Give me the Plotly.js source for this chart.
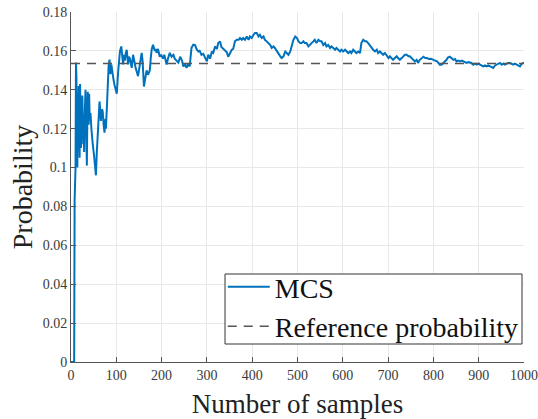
<!DOCTYPE html>
<html>
<head>
<meta charset="utf-8">
<script src="https://cdn.plot.ly/plotly-3.0.1.min.js"></script>
<style>
html,body{margin:0;padding:0;background:#fff;}
#chart{width:538px;height:419px;}
</style>
</head>
<body>
<div id="chart"></div>
<script>
// MCS running estimate: sample count and probability
const mcsN = [0,7,8,9,10,11,12,13,14,15,16,17,18,19,20,21,22,23,24,25,26,27,28,29,30,31,32,33,34,35,36,37,38,39,40,41,42,43,45,46,48,51,53,55,57,59,61,63,65,66,68,70,72,74,76,77,79,81,83,85,87,89,92,94,96,98,101,104,106,108,111,113,115,117,119,121,123,126,128,130,132,134,137,139,141,143,145,148,150,152,154,156,158,159,161,164,167,170,172,174,176,178,181,183,185,187,189,192,194,196,199,203,206,208,211,214,218,222,226,229,233,237,241,245,248,252,255,258,262,264,266,270,274,277,281,284,288,292,296,300,303,307,311,314,318,322,325,329,332,336,340,344,347,351,355,358,362,366,370,373,377,380,384,388,392,395,399,403,406,410,414,417,421,425,428,432,436,440,443,447,450,454,458,462,465,469,473,477,480,484,487,491,495,499,502,506,509,513,516,520,524,528,531,535,538,542,546,550,553,557,561,564,568,572,575,579,583,586,590,594,597,601,605,608,612,616,619,623,627,630,634,638,641,645,649,652,656,660,664,667,671,675,678,682,686,689,693,697,701,704,708,711,715,719,722,726,730,734,737,741,745,748,752,755,759,763,766,770,774,778,782,786,790,795,800,804,808,811,814,818,822,825,829,832,836,840,844,848,851,855,859,863,866,870,873,877,881,884,888,892,896,899,903,906,910,914,918,921,925,929,932,936,940,944,947,951,954,958,962,965,969,972,976,980,983,987,991,995,1000];
const mcsP = [0,0,0.083,0.1,0.1,0.154,0.146,0.118,0.1,0.135,0.123,0.142,0.12,0.105,0.143,0.128,0.11,0.13,0.12,0.137,0.128,0.112,0.12,0.108,0.125,0.135,0.14,0.128,0.11,0.101,0.125,0.139,0.13,0.122,0.138,0.128,0.124,0.128,0.12,0.116,0.112,0.106,0.1,0.096,0.108,0.118,0.125,0.134,0.128,0.124,0.13,0.129,0.122,0.118,0.125,0.12,0.13,0.148,0.152,0.1555,0.148,0.153,0.147,0.145,0.1426,0.14,0.138,0.149,0.155,0.1597,0.1623,0.156,0.153,0.158,0.155,0.159,0.1606,0.153,0.157,0.156,0.153,0.1513,0.158,0.155,0.153,0.151,0.1494,0.147,0.15,0.153,0.157,0.159,0.155,0.151,0.1417,0.146,0.15,0.1477,0.149,0.15,0.156,0.1606,0.1632,0.161,0.16,0.161,0.159,0.161,0.159,0.157,0.158,0.156,0.158,0.156,0.153,0.156,0.159,0.157,0.158,0.156,0.155,0.154,0.157,0.155,0.152,0.153,0.1513,0.153,0.152,0.157,0.1616,0.1632,0.163,0.161,0.1597,0.16,0.158,0.1585,0.1563,0.1546,0.158,0.156,0.1597,0.159,0.1623,0.161,0.164,0.1649,0.162,0.161,0.16,0.1593,0.157,0.159,0.1606,0.161,0.1649,0.1657,0.1657,0.1666,0.1657,0.1666,0.1657,0.1674,0.1657,0.1674,0.1666,0.1683,0.1692,0.1692,0.1674,0.1683,0.1666,0.1674,0.1657,0.1649,0.164,0.163,0.1615,0.1623,0.1615,0.16,0.158,0.1572,0.1563,0.1572,0.1597,0.159,0.158,0.1597,0.163,0.1657,0.1674,0.1666,0.165,0.164,0.164,0.1649,0.164,0.164,0.1623,0.163,0.164,0.1649,0.1657,0.164,0.1657,0.1649,0.1649,0.163,0.164,0.1623,0.163,0.1615,0.1623,0.1615,0.1606,0.1615,0.1606,0.1597,0.1606,0.1597,0.1606,0.1597,0.1589,0.1597,0.1589,0.1606,0.1597,0.1589,0.1597,0.1589,0.164,0.1657,0.1649,0.1649,0.164,0.163,0.1615,0.1606,0.1597,0.1606,0.1589,0.1597,0.1589,0.158,0.1589,0.1572,0.1563,0.1572,0.1563,0.1554,0.1563,0.1572,0.1563,0.1554,0.1563,0.1572,0.158,0.158,0.1572,0.1572,0.1563,0.156,0.1546,0.1554,0.1538,0.1554,0.1563,0.157,0.1563,0.1563,0.1558,0.156,0.1554,0.155,0.1546,0.1538,0.1529,0.1529,0.1538,0.1546,0.1554,0.1566,0.157,0.1563,0.1554,0.1558,0.1546,0.155,0.1546,0.155,0.1546,0.1538,0.1538,0.1542,0.1538,0.1538,0.1529,0.1534,0.1529,0.1534,0.1529,0.1525,0.152,0.1525,0.152,0.1525,0.152,0.1516,0.1512,0.1525,0.1529,0.1534,0.1538,0.1529,0.1534,0.1529,0.1534,0.1538,0.1538,0.1534,0.1529,0.1534,0.1529,0.1525,0.152,0.1534,0.154];
// Reference probability
const refN = [0, 1000];
const refP = [0.1535, 0.1535];
// Tick labels
const xTickVals = [0,100,200,300,400,500,600,700,800,900,1000];
const xTickText = ["0","100","200","300","400","500","600","700","800","900","1000"];
const yTickVals = [0,0.02,0.04,0.06,0.08,0.1,0.12,0.14,0.16,0.18];
const yTickText = ["0","0.02","0.04","0.06","0.08","0.1","0.12","0.14","0.16","0.18"];

const serif = 'Liberation Serif';

const traces = [
  {x: mcsN, y: mcsP, type: 'scatter', mode: 'lines', name: 'MCS',
   line: {color: '#0072BD', width: 2}},
  {x: refN, y: refP, type: 'scatter', mode: 'lines', name: 'Reference probability',
   line: {color: '#555555', width: 1.5, dash: '9px,7px'}}
];

function makeAxis(extra) {
  return Object.assign({
    showgrid: true, gridcolor: '#e8e8e8', gridwidth: 1,
    zeroline: false, showline: true, linecolor: '#555555', linewidth: 1,
    ticks: 'inside', ticklen: 5, tickcolor: '#555555',
    tickfont: {family: serif, size: 14, color: '#3a3a3a'}
  }, extra);
}

const layout = {
  width: 538, height: 419,
  margin: {l: 71, r: 14, t: 12, b: 57},
  paper_bgcolor: '#ffffff', plot_bgcolor: '#ffffff',
  font: {family: serif, color: '#111', size: 14},
  showlegend: true,
  xaxis: makeAxis({
    range: [0, 1000], tickmode: 'array', tickvals: xTickVals, ticktext: xTickText,
    title: {text: 'Number of samples', font: {family: serif, size: 27, color: '#222'}, standoff: 12}
  }),
  yaxis: makeAxis({
    range: [0, 0.18], tickmode: 'array', tickvals: yTickVals, ticktext: yTickText,
    title: {text: 'Probability', font: {family: serif, size: 28, color: '#222'}, standoff: 1}
  }),
  shapes: [{
    type: 'rect', xref: 'paper', yref: 'paper', layer: 'above',
    x0: 0.34, x1: 0.9956, y0: 0.0514, y1: 0.2514,
    line: {color: '#333333', width: 1}, fillcolor: '#ffffff'
  }],
  legend: {
    x: 0.335, xanchor: 'left', y: 0.031, yanchor: 'bottom',
    bgcolor: 'rgba(0,0,0,0)', borderwidth: 0,
    font: {family: serif, size: 28, color: '#111'},
    tracegroupgap: 0, itemwidth: 42
  }
};

Plotly.newPlot('chart', traces, layout, {displayModeBar: false, staticPlot: true});
</script>
</body>
</html>
